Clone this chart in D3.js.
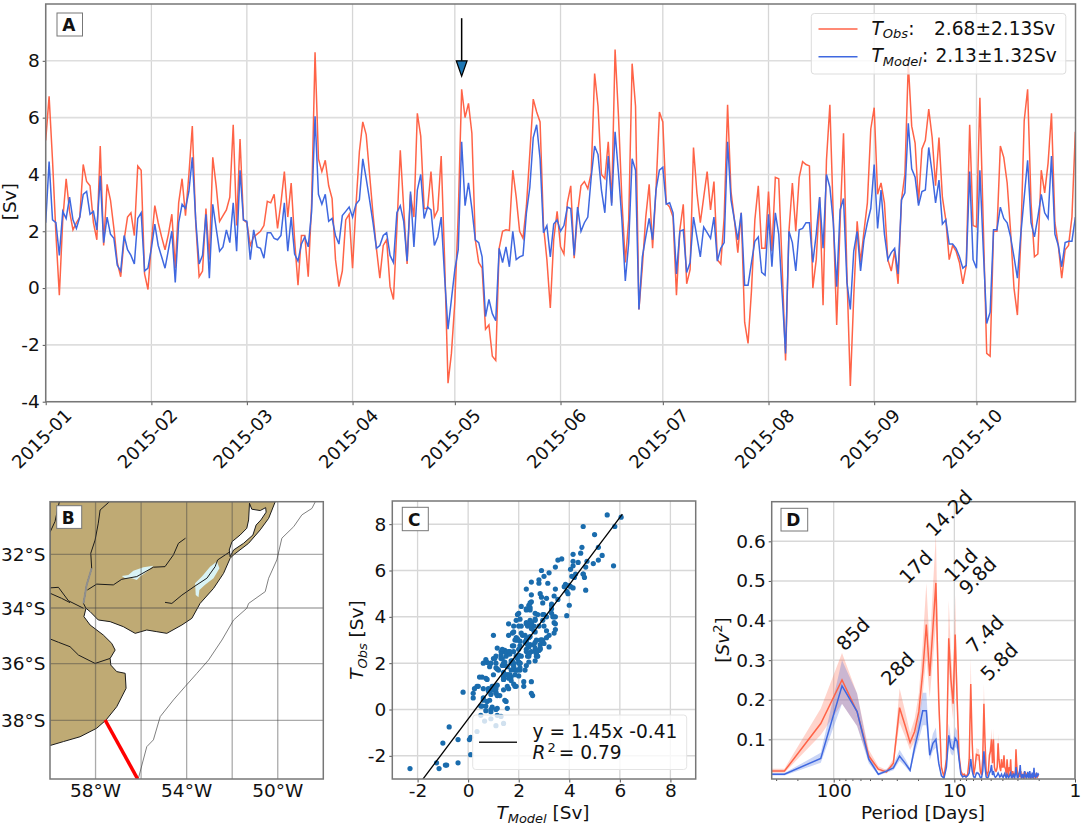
<!DOCTYPE html>
<html><head><meta charset="utf-8">
<script src="https://cdn.jsdelivr.net/npm/d3@7"></script>
<style>
html,body{margin:0;padding:0;background:#fff}
text{font-family:"DejaVu Sans",sans-serif;fill:#111}
</style></head><body>
<svg id="fig" width="1084" height="827"></svg>
<script>
// ---------- Panel A data ----------
const monthLabels=["2015-01","2015-02","2015-03","2015-04","2015-05","2015-06","2015-07","2015-08","2015-09","2015-10"];
const transportObs=[
5.2,6.75,4.5,1.9,-0.25,2.4,3.85,2.7,2.05,2.3,
2.5,4.35,3.75,3.6,2.3,1.7,5.0,1.5,3.65,3.1,
2.1,0.9,0.4,1.7,2.5,2.65,1.85,4.3,4.15,0.5,
-0.05,1.6,2.9,2.3,1.8,1.35,1.9,2.6,0.7,3.0,
3.85,2.55,4.0,5.7,2.3,0.4,0.6,2.8,1.0,4.6,
3.6,2.35,2.55,2.75,3.2,5.75,2.2,5.25,2.4,2.3,
1.5,1.8,1.9,2.0,2.2,3.05,3.0,3.3,2.1,3.0,
4.1,2.5,3.7,1.7,0.1,1.85,1.85,0.4,3.0,8.3,
4.55,4.1,4.5,3.6,3.15,1.0,0.05,0.6,2.4,2.6,
0.7,2.9,4.8,5.85,5.4,4.0,2.6,1.4,0.35,1.5,
1.7,0.05,-0.4,2.1,4.85,2.8,0.85,3.3,2.5,6.15,
5.35,2.8,2.8,4.1,2.5,2.75,4.65,1.0,-3.35,-2.3,
-0.5,2.6,7.0,6.0,6.5,5.45,1.7,0.9,0.7,-1.45,
-1.3,-2.4,-2.55,1.4,2.0,2.05,2.03,4.15,3.2,2.0,
1.75,2.9,4.75,6.65,6.2,5.85,2.2,1.0,-0.7,1.7,
2.7,1.45,1.2,3.0,3.6,1.05,2.65,3.6,3.75,3.5,
4.05,7.55,6.4,4.0,3.85,5.15,3.0,8.4,6.05,3.1,
0.9,2.4,7.9,6.4,-0.75,0.75,2.5,3.65,1.4,3.45,
6.2,5.85,3.0,2.85,2.5,-0.25,2.05,2.95,0.15,0.65,
4.95,3.35,2.3,3.2,4.1,2.75,3.75,1.0,0.85,2.5,
6.45,3.4,2.4,1.25,2.65,-1.2,-1.95,-0.1,2.4,3.6,
1.4,1.4,3.4,1.3,3.9,3.85,0.75,-2.55,2.0,3.7,
2.0,3.9,4.45,4.35,4.3,0.0,1.0,3.2,-0.6,4.5,
6.45,2.5,-1.3,2.3,5.45,0.5,-3.45,-0.3,2.35,0.9,
2.0,3.0,5.6,6.35,3.3,3.7,3.0,1.0,0.6,1.3,
0.15,3.1,4.0,7.9,5.7,5.1,3.0,4.9,5.2,6.3,
5.3,3.6,5.3,3.2,2.4,1.0,1.5,1.3,0.9,0.15,
0.8,5.75,2.2,2.15,6.7,2.2,-2.3,-2.4,2.0,2.0,
5.0,4.6,3.7,2.0,0.0,-0.95,1.7,5.9,7.0,3.0,
1.1,1.2,4.15,3.35,4.4,6.15,2.3,1.5,0.35,1.35,
1.5,2.5,5.5];
const transportModel=[
2.3,4.45,2.4,2.3,1.15,2.7,2.45,3.2,2.4,2.1,
2.5,3.3,3.4,2.6,2.7,2.05,3.95,1.6,2.5,1.9,
1.75,0.8,0.6,1.85,1.35,1.15,0.85,2.45,2.65,0.6,
0.7,1.4,2.25,1.5,1.1,0.7,1.35,2.0,0.2,2.3,
2.95,2.8,3.4,4.6,2.4,0.85,1.15,2.6,0.35,2.95,
2.1,1.3,1.45,2.05,1.6,3.0,1.3,4.15,2.4,2.35,
1.0,2.05,1.45,1.4,1.05,1.95,1.95,1.75,1.7,1.85,
3.0,1.3,2.5,1.2,0.95,1.55,1.8,1.45,2.7,6.05,
3.3,2.95,3.3,2.35,2.45,1.85,1.55,2.55,2.7,2.85,
2.5,2.95,3.1,4.55,3.85,3.1,2.3,1.4,1.5,1.85,
1.95,1.15,0.9,2.65,2.9,2.35,0.95,3.4,1.45,3.45,
4.0,2.45,2.85,2.75,1.5,1.8,2.5,0.4,-1.45,-0.4,
0.65,1.35,5.15,2.9,3.7,2.8,1.7,1.6,1.1,-1.0,
-0.4,-0.9,-1.15,1.4,0.9,1.45,0.75,2.0,1.0,1.1,
1.15,2.65,3.55,5.3,5.75,4.55,1.95,2.2,1.1,2.25,
2.4,2.0,2.2,2.85,2.8,1.15,2.85,2.0,2.3,2.5,
3.9,5.0,4.7,3.45,2.65,4.65,2.9,5.5,4.05,2.4,
0.25,1.6,4.55,4.15,-0.75,1.1,1.8,2.45,1.7,3.45,
4.15,4.25,2.95,3.0,2.65,0.5,2.0,2.05,0.55,0.9,
2.5,1.8,1.1,2.15,1.95,1.75,2.5,0.95,1.4,1.6,
5.15,3.1,2.4,1.7,2.65,0.1,0.1,0.9,1.65,1.8,
0.55,0.45,2.6,0.75,2.65,1.9,-0.2,-2.3,2.0,1.6,
0.6,2.05,2.1,2.3,2.3,0.9,1.9,3.2,1.4,4.0,
3.55,2.3,0.05,2.75,3.15,0.2,-0.75,1.3,2.0,0.6,
1.7,2.3,2.8,4.35,2.1,3.45,1.9,1.0,1.25,1.4,
0.5,3.1,3.35,5.8,4.2,3.9,2.9,3.4,3.45,4.95,
4.05,3.0,3.8,2.25,2.4,1.55,1.55,1.4,1.1,0.7,
0.8,4.1,1.0,0.7,4.15,1.35,-1.25,-0.85,2.05,2.05,
2.85,2.45,2.3,1.8,1.1,0.35,1.9,3.2,4.5,2.3,
1.8,2.5,3.3,2.65,2.45,4.65,1.9,1.5,0.75,1.6,
1.65,1.65,2.5];
const arrowDayIndex=122, arrowFrom=9.5, arrowHeadBase=8.0, arrowTip=7.46;
const yTicksA=[-4,-2,0,2,4,6,8];

// ---------- Panel B data (lon, lat) ----------
const coast=[[-50.11,-30.04],[-50.4,-30.66],[-50.77,-31.09],[-51.28,-31.59],[-51.94,-32.02],[-52.09,-32.15],[-52.38,-32.71],[-52.82,-33.27],[-53.41,-33.83],[-53.77,-34.37],[-54.21,-34.61],[-54.87,-34.91],[-55.31,-34.85],[-55.75,-34.79],[-56.26,-34.91],[-56.78,-34.67],[-57.36,-34.49],[-57.88,-34.43],[-58.24,-34.13],[-58.42,-34.01],[-58.51,-34.31],[-58.24,-34.61],[-57.66,-34.97],[-57.29,-35.27],[-57.14,-35.51],[-57.36,-35.81],[-57.33,-36.05],[-57.07,-36.28],[-56.7,-36.34],[-56.66,-36.87],[-57.07,-37.52],[-57.54,-37.99],[-57.95,-38.28],[-58.68,-38.58],[-59.41,-38.75],[-60,-38.89]];
const landCorners=[[-60,-30.04]];
const lagoonPatos=[[-51.24,-30.1],[-51.14,-30.32],[-50.77,-30.37],[-50.53,-30.26],[-50.51,-30.43],[-50.74,-30.72],[-50.95,-30.91],[-51.09,-31.28],[-51.5,-31.59],[-51.94,-31.84],[-52.09,-32.09],[-52.13,-31.84],[-52.01,-31.53],[-51.65,-31.28],[-51.36,-31.03],[-51.28,-30.72]];
const lakeNegro=[[-56.85,-32.81],[-56.56,-32.77],[-56.34,-32.61],[-55.9,-32.48],[-55.46,-32.43],[-55.75,-32.65],[-56.04,-32.83],[-56.19,-32.96],[-56.41,-32.89],[-56.7,-32.89]];
const lakeMirim=[[-53.63,-33.08],[-53.33,-32.83],[-52.97,-32.46],[-52.67,-32.27],[-52.56,-32.52],[-52.82,-32.89],[-53.19,-33.13],[-53.44,-33.33],[-53.48,-33.6],[-53.6,-33.52]];
const riverUruguay=[[-57.39,-30.04],[-57.8,-30.35],[-57.88,-30.84],[-58.02,-31.47],[-58.21,-31.96],[-58.17,-32.52],[-58.39,-33.14],[-58.53,-33.83],[-58.42,-34.01]];
const riverUruguayEstuary=[[-58.17,-32.52],[-58.39,-33.14],[-58.53,-33.83]];
const riverNegro=[[-58.36,-33.33],[-57.95,-33.11],[-57.22,-33.14],[-56.85,-32.93],[-56.19,-32.83],[-55.46,-32.48],[-54.95,-32.46],[-54.58,-32.02],[-54.36,-31.59],[-54.05,-31.4]];
const riverCebollati=[[-54.95,-33.79],[-54.65,-33.83],[-54.21,-33.52],[-53.63,-33.18],[-53.11,-32.89],[-52.75,-32.46],[-52.64,-32.21],[-52.09,-31.9]];
const riverCorner=[[-60,-31.18],[-59.78,-30.78],[-59.59,-30.04]];
const riverParana=[[-60,-33.25],[-59.63,-33.23],[-59.19,-33.73],[-58.53,-34.01]];
const riverParana2=[[-60,-33.45],[-59.49,-33.64],[-59.12,-33.8]];
const riverSalado=[[-60,-35.11],[-59.63,-35.23],[-59.12,-35.39],[-58.75,-35.69],[-58.02,-35.99],[-57.36,-35.81]];
const shelfContour=[[-48.35,-30.04],[-48.5,-30.29],[-48.94,-30.53],[-49.3,-30.97],[-49.82,-31.4],[-50.04,-32.21],[-50.4,-32.89],[-50.55,-33.39],[-51.28,-33.83],[-51.36,-34.01],[-51.94,-34.43],[-52.45,-35.15],[-53.04,-35.87],[-53.55,-36.34],[-54.07,-36.81],[-54.58,-37.28],[-55.16,-37.87],[-55.46,-38.69],[-55.75,-38.93],[-56.12,-40.05]];
const sectionLine=[[-57.58,-37.99],[-56.15,-40.07]];
const lonGrid=[-58,-56,-54,-52,-50];
const lonLabels=[-58,-54,-50];
const latGrid=[-38,-36,-34,-32];

// ---------- Panel C data ----------
const fitSlope=1.45, fitIntercept=-0.41, fitXExtent=[-1.79,6.1];
const ticksC=[-2,0,2,4,6,8];

// ---------- Panel D data (first entry is the zero-frequency bin, then 256/k days) ----------
const specObs=[.02,
.02,.14,.25,.17,.058,.025,.018,.04,.18,.135,
.092,.12,.17,.27,.39,.26,.38,.495,.2,.03,
.005,.05,.355,.25,.19,.365,.2,.06,.02,.01,
.012,.006,.012,.05,.24,.09,.01,.03,.062,.06,
.06,.02,.01,.05,.19,.09,.02,.01,.02,.06,
.07,.1,.04,.1,.03,.02,.02,.03,.09,.05,
.03,.02,.05,.03,.03,.06,.03,.025,.01,.05,
.02,.008,.03,.02,.05,.01,.008,.02,.012,.006,
.01,.02,.075,.04,.02,.005,.005,.015,.005,.012,
.02,.004,.003,.008,.012,.004,.003,.012,.018,.008,
.004,.01,.006,.014,.005,.004,.01,.016,.006,.004,
.008,.006,.012,.005,.004,.01,.018,.012,.006,.009,
.004,.007,.012,.01,.006,.008,.009,.008];
const specModel=[.012,
.012,.052,.235,.17,.05,.012,.02,.028,.058,.04,
.022,.08,.125,.172,.172,.06,.09,.1,.04,.008,
.002,.03,.11,.08,.075,.103,.095,.05,.012,.005,
.008,.005,.008,.015,.05,.02,.005,.004,.015,.015,
.012,.004,.003,.02,.07,.03,.005,.003,.005,.015,
.02,.035,.01,.02,.008,.004,.006,.01,.015,.01,
.005,.008,.012,.006,.004,.01,.014,.006,.003,.012,
.008,.003,.006,.012,.016,.004,.003,.008,.014,.005,
.003,.012,.03,.015,.004,.003,.008,.015,.02,.035,
.012,.003,.005,.012,.006,.003,.01,.02,.008,.006,
.003,.012,.005,.018,.004,.003,.01,.02,.006,.003,
.012,.005,.016,.004,.003,.012,.028,.014,.005,.01,
.003,.006,.016,.012,.006,.01,.012,.01];
const specObsHigh=[.026,
.026,.178,.318,.216,.074,.032,.023,.051,.229,.171,
.117,.152,.216,.343,.495,.33,.483,.62,.254,.038,
.006,.064,.451,.318,.241,.464,.254,.076,.025,.013,
.015,.008,.015,.064,.305,.114,.013,.038,.079,.076,
.076,.025,.013,.064,.241,.114,.025,.013,.025,.076,
.089,.127,.051,.127,.038,.025,.025,.038,.114,.064];
const specObsLow=[.016,
.016,.111,.19,.134,.046,.02,.014,.032,.142,.107,
.073,.095,.134,.213,.308,.205,.3,.39,.158,.024,
.004,.04,.28,.198,.15,.288,.158,.047,.016,.008,
.009,.005,.009,.04,.19,.071,.008,.024,.049,.047,
.047,.016,.008,.04,.15,.071,.016,.008,.016,.047,
.055,.079,.032,.079,.024,.016,.016,.024,.071,.04];
const specModelHigh=[.015,
.015,.066,.3,.216,.064,.015,.025,.036,.074,.051,
.028,.102,.159,.218,.218,.076,.114,.13,.051,.01,
.003,.038,.14,.102,.095,.131,.121,.064,.015,.006,
.01,.006,.01,.019,.064,.025,.006,.005,.019,.019,
.015,.005,.004,.025,.089,.038,.006,.004,.006,.019,
.025,.044,.013,.025,.01,.005,.008,.013,.019,.013];
const specModelLow=[.009,
.009,.041,.19,.134,.04,.009,.016,.022,.046,.032,
.017,.063,.099,.136,.136,.047,.071,.079,.032,.006,
.002,.024,.087,.063,.059,.081,.075,.04,.009,.004,
.006,.004,.006,.012,.04,.016,.004,.003,.012,.012,
.009,.003,.002,.016,.055,.024,.004,.002,.004,.012,
.016,.028,.008,.016,.006,.003,.005,.008,.012,.008];
const peakLabels=["85d","28d","17d","14.2d","11d","9.8d","7.4d","5.8d"];
const peakPeriods=[69.2,29.5,20.9,11.1,8.82,6.41,5.58,4.25];
const peakLevels=[.366,.278,.535,.671,.54,.513,.366,.296];
const yTicksD=[.1,.2,.3,.4,.5,.6];
const xTicksD=[100,10,1];

// ---------- Styles ----------
const OBS="#ff6347", MODEL="#3f68e0", GRID="#d6d6d6", FRAME="#777", LABEL=18.5;
const svg=d3.select("#fig");

function clip(id,x0,y0,x1,y1){
  svg.append("clipPath").attr("id",id).append("rect")
    .attr("x",x0).attr("y",y0).attr("width",x1-x0).attr("height",y1-y0);
}
function frame(x0,y0,x1,y1){
  svg.append("rect").attr("x",x0).attr("y",y0).attr("width",x1-x0).attr("height",y1-y0)
    .attr("fill","none").attr("stroke",FRAME).attr("stroke-width",1.5);
}
function tag(t,x,y,w,h){
  svg.append("rect").attr("x",x).attr("y",y).attr("width",w).attr("height",h)
    .attr("fill","#fff").attr("stroke","#777").attr("stroke-width",1);
  svg.append("text").attr("x",x+w/2-1).attr("y",y+h/2+6.5).attr("text-anchor","middle")
    .attr("font-size",17).attr("font-weight","bold").text(t);
}
function styleAxis(g){
  g.select(".domain").remove();
  g.selectAll(".tick line").attr("stroke","#555").attr("stroke-width",1);
  g.selectAll(".tick text").attr("font-size",LABEL).attr("fill","#111")
    .attr("font-family",'"DejaVu Sans",sans-serif');
}
function gridX(sc,vals,y0,y1,col=GRID,w=1.3){
  svg.append("g").selectAll("line").data(vals).join("line")
    .attr("x1",sc).attr("x2",sc).attr("y1",y0).attr("y2",y1)
    .attr("stroke",col).attr("stroke-width",w);
}
function gridY(sc,vals,x0,x1,col=GRID,w=1.5){
  svg.append("g").selectAll("line").data(vals).join("line")
    .attr("y1",sc).attr("y2",sc).attr("x1",x0).attr("x2",x1)
    .attr("stroke",col).attr("stroke-width",w);
}
function mathLabel(parent,x,y,sub,rest,size){
  const t=parent.append("text").attr("x",x).attr("y",y).attr("font-size",size);
  t.append("tspan").attr("font-style","italic").text("T");
  t.append("tspan").attr("font-style","italic").attr("font-size",size*0.7).attr("dy",size*0.2).text(sub);
  t.append("tspan").attr("dy",-size*0.2).text(rest);
  return t;
}

// ========== Panel A ==========
const ax0=45.7,ax1=1075.5,ay0=4,ay1=401.7;
const dayOf=i=>d3.utcDay.offset(new Date(Date.UTC(2015,0,1)),i);
const xA=d3.scaleUtc().domain([new Date(Date.UTC(2015,0,1)),new Date(Date.UTC(2015,9,30,1))]).range([ax0,ax1]);
const yA=d3.scaleLinear().domain([-4,10]).range([ay1,ay0]);
const monthDates=monthLabels.map(m=>new Date(m+"-01T00:00:00Z"));
gridX(xA,monthDates,ay0,ay1);
gridY(yA,yTicksA,ax0,ax1,"#dedede",1.6);
clip("ca",ax0,ay0,ax1,ay1);
const lineA=d3.line().x((d,i)=>xA(dayOf(i))).y(d=>yA(d));
const gA=svg.append("g").attr("clip-path","url(#ca)");
gA.append("path").attr("d",lineA(transportObs)).attr("fill","none").attr("stroke",OBS).attr("stroke-width",1.5);
gA.append("path").attr("d",lineA(transportModel)).attr("fill","none").attr("stroke",MODEL).attr("stroke-width",1.5);
const gAx=svg.append("g").attr("transform",`translate(0,${ay1})`)
  .call(d3.axisBottom(xA).tickValues(monthDates).tickFormat((d,i)=>monthLabels[i]).tickSize(3.5));
styleAxis(gAx);
gAx.selectAll(".tick text").attr("text-anchor","middle").attr("dy",0).attr("y",0).attr("font-size",18)
  .attr("transform","translate(0,41.5) rotate(-45)");
const gAy=svg.append("g").attr("transform",`translate(${ax0},0)`)
  .call(d3.axisLeft(yA).tickValues(yTicksA).tickFormat(d=>String(d)).tickSize(3));
styleAxis(gAy);
frame(ax0,ay0,ax1,ay1);
svg.append("text").attr("transform","translate(16,201.7) rotate(-90)")
  .attr("text-anchor","middle").attr("font-size",LABEL).text("[Sv]");
// arrow
const ax=xA(dayOf(arrowDayIndex));
svg.append("line").attr("x1",ax).attr("x2",ax).attr("y1",yA(arrowFrom)).attr("y2",yA(arrowHeadBase))
  .attr("stroke","#000").attr("stroke-width",1.5);
svg.append("path").attr("d",d3.line()([[ax-5.4,yA(arrowHeadBase)],[ax+5.4,yA(arrowHeadBase)],[ax,yA(arrowTip)]])+"Z")
  .attr("fill","#1f77b4").attr("stroke","#000").attr("stroke-width",1.2);
tag("A",57,13,25.5,23);
// legend A
const LEG=18.6;
const lgA=svg.append("g");
lgA.append("rect").attr("x",811.3).attr("y",13.5).attr("width",254.5).attr("height",60.5).attr("rx",3)
  .attr("fill","#fff").attr("fill-opacity",0.8).attr("stroke","#ddd").attr("stroke-width",1);
lgA.append("line").attr("x1",818.5).attr("x2",857.5).attr("y1",29).attr("y2",29).attr("stroke",OBS).attr("stroke-width",1.5);
lgA.append("line").attr("x1",818.5).attr("x2",857.5).attr("y1",56.7).attr("y2",56.7).attr("stroke",MODEL).attr("stroke-width",1.5);
mathLabel(lgA,871.5,34.5,"Obs",":",LEG);
lgA.append("text").attr("x",934).attr("y",34.5).attr("font-size",LEG).text("2.68±2.13Sv");
mathLabel(lgA,871.5,62,"Model",":",LEG);
lgA.append("text").attr("x",935.5).attr("y",62).attr("font-size",LEG).text("2.13±1.32Sv");

// ========== Panel B ==========
const bx0=50,bx1=323.3,by0=501.7,by1=779;
const lonScale=d3.scaleLinear().domain([-60,-48]).range([bx0,bx1]);
const latScale=d3.scaleLinear().domain([-40.07,-38,-36,-34,-32,-30.04]).range([by1,720.3,663.7,608,554.3,by0]);
const mapLine=d3.line().x(d=>lonScale(d[0])).y(d=>latScale(d[1]));
clip("cb",bx0,by0,bx1,by1);
const gB=svg.append("g").attr("clip-path","url(#cb)");
gB.append("path").attr("d",mapLine(coast.concat(landCorners))+"Z").attr("fill","#bfaa74").attr("stroke","#1b1b1b").attr("stroke-width",1);
gB.append("path").attr("d",mapLine(lagoonPatos)+"Z").attr("fill","#fff").attr("stroke","#1b1b1b").attr("stroke-width",1);
[lakeNegro,lakeMirim].forEach(l=>gB.append("path").attr("d",mapLine(l)+"Z").attr("fill","#d9f3f5").attr("stroke","none"));
[riverUruguay,riverNegro,riverCebollati,riverCorner,riverParana,riverParana2,riverSalado].forEach(r=>
  gB.append("path").attr("d",mapLine(r)).attr("fill","none").attr("stroke","#1b1b1b").attr("stroke-width",1));
gB.append("path").attr("d",mapLine(riverUruguayEstuary)).attr("fill","none").attr("stroke","#8f8f8f").attr("stroke-width",2);
gB.append("path").attr("d",mapLine(shelfContour)).attr("fill","none").attr("stroke","#808080").attr("stroke-width",1);
gB.append("g").selectAll("line").data(lonGrid).join("line")
  .attr("x1",lonScale).attr("x2",lonScale).attr("y1",by0).attr("y2",by1)
  .attr("stroke","#444").attr("stroke-opacity",0.45).attr("stroke-width",1.3);
gB.append("g").selectAll("line").data(latGrid).join("line")
  .attr("y1",latScale).attr("y2",latScale).attr("x1",bx0).attr("x2",bx1)
  .attr("stroke","#444").attr("stroke-opacity",0.45).attr("stroke-width",1.3);
gB.append("path").attr("d",mapLine(sectionLine)).attr("fill","none").attr("stroke","#f00").attr("stroke-width",3.5);
frame(bx0,by0,bx1,by1);
svg.append("g").selectAll("text").data(latGrid).join("text")
  .attr("x",45.5).attr("y",d=>latScale(d)+6.5).attr("text-anchor","end").attr("font-size",LABEL)
  .text(d=>`${-d}°S`);
svg.append("g").selectAll("text").data(lonLabels).join("text")
  .attr("x",lonScale).attr("y",797).attr("text-anchor","middle").attr("font-size",LABEL)
  .text(d=>`${-d}°W`);
tag("B",56.7,505.7,25,22.7);

// ========== Panel C ==========
const cx0=392.3,cx1=695.7,cy0=501,cy1=779;
const xC=d3.scaleLinear().domain([-3,9]).range([cx0,cx1]);
const yC=d3.scaleLinear().domain([-3,9]).range([cy1,cy0]);
gridX(xC,ticksC,cy0,cy1);
gridY(yC,ticksC,cx0,cx1,"#d8d8d8");
clip("cc",cx0,cy0,cx1,cy1);
const gC=svg.append("g").attr("clip-path","url(#cc)");
gC.selectAll("circle").data(transportModel).join("circle")
  .attr("cx",d=>xC(d)).attr("cy",(d,i)=>yC(transportObs[i])).attr("r",2.6).attr("fill","#1a6cad");
gC.append("line").attr("x1",xC(fitXExtent[0])).attr("x2",xC(fitXExtent[1]))
  .attr("y1",yC(fitSlope*fitXExtent[0]+fitIntercept)).attr("y2",yC(fitSlope*fitXExtent[1]+fitIntercept))
  .attr("stroke","#000").attr("stroke-width",1.3);
const gCx=svg.append("g").attr("transform",`translate(0,${cy1})`)
  .call(d3.axisBottom(xC).tickValues(ticksC).tickFormat(d=>String(d)).tickSize(3.5));
styleAxis(gCx);
gCx.selectAll(".tick text").attr("y",5);
const gCy=svg.append("g").attr("transform",`translate(${cx0},0)`)
  .call(d3.axisLeft(yC).tickValues(ticksC).tickFormat(d=>String(d)).tickSize(3));
styleAxis(gCy);
frame(cx0,cy0,cx1,cy1);
const lgC=svg.append("g");
lgC.append("rect").attr("x",472.7).attr("y",715).attr("width",214).attr("height",54.5).attr("rx",3)
  .attr("fill","#fff").attr("fill-opacity",0.8).attr("stroke","#e4e4e4").attr("stroke-width",1);
lgC.append("line").attr("x1",479).attr("x2",517).attr("y1",742.3).attr("y2",742.3).attr("stroke","#222").attr("stroke-width",1.4);
lgC.append("text").attr("x",532.5).attr("y",737.5).attr("font-size",LEG).text("y = 1.45x -0.41");
const r2=lgC.append("text").attr("x",532.5).attr("y",758.5).attr("font-size",LEG);
r2.append("tspan").attr("font-style","italic").text("R");
r2.append("tspan").attr("font-size",13).attr("dy",-7).attr("dx",2).text("2");
r2.append("tspan").attr("dy",7).attr("dx",3).text("= 0.79");
mathLabel(svg,0,0,"Model"," [Sv]",LABEL).attr("x",null).attr("y",null)
  .attr("text-anchor","middle").attr("transform","translate(543,819)");
mathLabel(svg,0,0,"Obs"," [Sv]",LABEL).attr("x",null).attr("y",null)
  .attr("text-anchor","middle").attr("transform","translate(363,640) rotate(-90)");
tag("C",402.3,507.3,26,23.4);

// ========== Panel D ==========
const dx0=771.7,dx1=1075,dy0=501.7,dy1=779;
const periods=[512].concat(d3.range(1,129).map(k=>256/k));
const xD=d3.scaleLog().domain([100*Math.pow(10,(833.7-dx0)/120.65),1]).range([dx0,dx1]);
const yD=d3.scaleLinear().domain([0,.7]).range([dy1,dy0]);
gridX(xD,xTicksD,dy0,dy1);
gridY(yD,yTicksD,dx0,dx1,"#d8d8d8");
clip("cd",dx0,dy0,dx1,dy1);
const gD=svg.append("g").attr("clip-path","url(#cd)");
const band=(hi,lo)=>d3.area().x((d,i)=>xD(periods[i])).y0((d,i)=>yD(lo[i])).y1(d=>yD(d))(hi);
gD.append("path").attr("d",band(specObsHigh,specObsLow)).attr("fill",OBS).attr("fill-opacity",0.28);
gD.append("path").attr("d",band(specModelHigh,specModelLow)).attr("fill",MODEL).attr("fill-opacity",0.28);
const lineD=d3.line().x((d,i)=>xD(periods[i])).y(d=>yD(d));
gD.append("path").attr("d",lineD(specObs)).attr("fill","none").attr("stroke",OBS).attr("stroke-width",1.5);
gD.append("path").attr("d",lineD(specModel)).attr("fill","none").attr("stroke",MODEL).attr("stroke-width",1.5);
const gDx=svg.append("g").attr("transform",`translate(0,${dy1})`)
  .call(d3.axisBottom(xD).tickValues(xTicksD).tickFormat(d=>String(d)).tickSize(3.5));
styleAxis(gDx);
gDx.selectAll(".tick text").attr("y",5);
const minor=[];
[100,10,1].forEach(m=>d3.range(2,10).forEach(f=>{if(m*f<xD.domain()[0])minor.push(m*f);}));
const gDm=svg.append("g").attr("transform",`translate(0,${dy1})`)
  .call(d3.axisBottom(xD).tickValues(minor).tickFormat("").tickSize(2));
styleAxis(gDm);
const gDy=svg.append("g").attr("transform",`translate(${dx0},0)`)
  .call(d3.axisLeft(yD).tickValues(yTicksD).tickFormat(d3.format(".1f")).tickSize(3));
styleAxis(gDy);
frame(dx0,dy0,dx1,dy1);
svg.append("g").selectAll("text").data(peakLabels).join("text")
  .attr("text-anchor","middle").attr("dy","0.35em").attr("font-size",19.5)
  .attr("transform",(d,i)=>`translate(${xD(peakPeriods[i])},${yD(peakLevels[i])}) rotate(-45)`)
  .text(d=>d);
const ys=svg.append("text").attr("transform","translate(729,640) rotate(-90)").attr("text-anchor","middle").attr("font-size",LABEL);
ys.append("tspan").text("[");
ys.append("tspan").attr("font-style","italic").text("Sv");
ys.append("tspan").attr("font-size",13).attr("dy",-7).text("2");
ys.append("tspan").attr("dy",7).text("]");
svg.append("text").attr("x",923).attr("y",819).attr("text-anchor","middle").attr("font-size",LABEL).text("Period [Days]");
tag("D",781,508.3,26.7,22.7);
</script>
</body></html>
